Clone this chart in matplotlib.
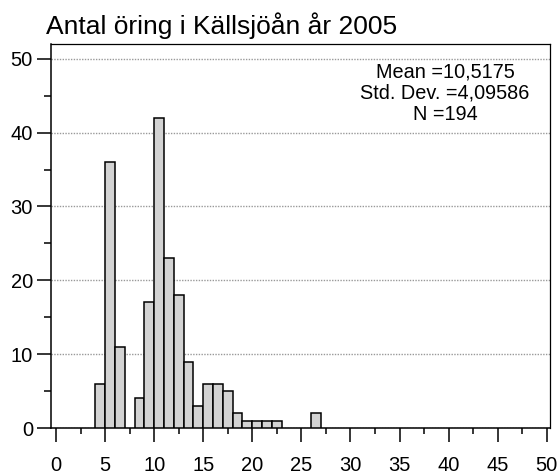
import matplotlib
matplotlib.use('Agg')
import matplotlib.pyplot as plt
from matplotlib.ticker import MultipleLocator

plt.rcParams['font.family'] = ['Liberation Sans', 'DejaVu Sans']

# histogram bins (left edge, width 1) and counts
bin_left = [4, 5, 6, 8, 9, 10, 11, 12, 13, 14, 15, 16, 17, 18, 19, 20, 21, 22, 26]
counts = [6, 36, 11, 4, 17, 42, 23, 18, 9, 3, 6, 6, 5, 2, 1, 1, 1, 1, 2]

title = 'Antal öring i Källsjöån år 2005'
stats = 'Mean =10,5175\nStd. Dev. =4,09586\nN =194'

fig = plt.figure(figsize=(5.6, 4.74), dpi=100)
ax = fig.add_axes([51 / 560, 1 - 428 / 474, 499 / 560, 384 / 474])

ax.bar(bin_left, counts, width=1, align='edge', color='#d3d3d3',
       edgecolor='black', linewidth=1.1, zorder=3)

ax.set_xlim(-0.51, 50.33)
ax.set_ylim(0, 52.0)

ax.xaxis.set_major_locator(MultipleLocator(5))
ax.xaxis.set_minor_locator(MultipleLocator(2.5))
ax.yaxis.set_major_locator(MultipleLocator(10))
ax.yaxis.set_minor_locator(MultipleLocator(5))

ax.tick_params(axis='x', which='major', length=10, width=1.1, pad=10, labelsize=14.5)
ax.tick_params(axis='x', which='minor', length=4.3, width=1.1)
ax.tick_params(axis='y', which='major', length=10, width=1.1, pad=3, labelsize=14.5)
ax.tick_params(axis='y', which='minor', length=5, width=1.1)

for s in ax.spines.values():
    s.set_linewidth(0.9)
ax.spines['left'].set_linewidth(1.1)
ax.spines['bottom'].set_linewidth(1.1)

ax.yaxis.grid(True, which='major', color='#999999', linestyle=(0, (1, 1)),
              linewidth=1.0, zorder=0)

fig.text(445 / 560, 1 - 63 / 474, stats, ha='center', va='top',
         fontsize=14.3, linespacing=1.12, multialignment='center')

fig.text(46 / 560, 1 - 34 / 474, title, ha='left', va='baseline', fontsize=19)

fig.savefig('out.png', dpi=100)
